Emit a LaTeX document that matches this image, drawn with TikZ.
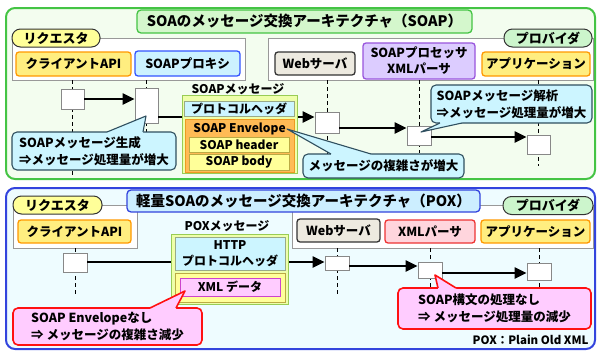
\documentclass[tikz,border=0pt]{standalone}
\usepackage{fontspec}
\setmainfont{Noto Sans CJK JP}[BoldFont={Noto Sans CJK JP Black}]
\usetikzlibrary{arrows.meta}
\definecolor{gpanelD}{HTML}{44C444}
\definecolor{gpanelF}{HTML}{F3FDEF}
\definecolor{gtitleF}{HTML}{D4F7CC}
\definecolor{bpanelD}{HTML}{3344DD}
\definecolor{bpanelF}{HTML}{EEFCFF}
\definecolor{btitleF}{HTML}{CCEEFF}
\definecolor{reqF}{HTML}{FFFF99}
\definecolor{provF}{HTML}{CCF5CC}
\definecolor{ylwF}{HTML}{FFEE80}
\definecolor{ylwD}{HTML}{FF9900}
\definecolor{prxF}{HTML}{CCF2FF}
\definecolor{prxD}{HTML}{3355FF}
\definecolor{webF}{HTML}{EDEAE0}
\definecolor{procF}{HTML}{DCCCFF}
\definecolor{procD}{HTML}{9955DD}
\definecolor{xmlpF}{HTML}{FFD5DD}
\definecolor{xmlpD}{HTML}{EE3333}
\definecolor{cyF}{HTML}{CCF5FF}
\definecolor{cyD}{HTML}{2F4F5F}
\definecolor{rdF}{HTML}{FFCCFF}
\definecolor{rdD}{HTML}{FF1111}
\definecolor{msgF}{HTML}{EEFFAA}
\definecolor{msgD}{HTML}{99CC55}
\definecolor{hdrD}{HTML}{99AA88}
\definecolor{envF}{HTML}{FFBB55}
\definecolor{envD}{HTML}{EE9922}
\definecolor{inF}{HTML}{FFFF99}
\definecolor{inD}{HTML}{BBAA44}
\definecolor{xdF}{HTML}{FFCCFF}
\definecolor{xdD}{HTML}{CC44CC}
\definecolor{grpD}{HTML}{999999}
\definecolor{actD}{HTML}{888888}
\begin{document}
\begin{tikzpicture}[x=1pt,y=-1pt,
  txt/.style={font=\bfseries\fontsize{12}{15}\selectfont},
  box/.style={draw, rounded corners=3pt, inner sep=0pt, line width=1.3pt, align=center, txt},
  panel/.style={rounded corners=9pt, line width=2pt, inner sep=0pt},
  ttl/.style={draw, rounded corners=4pt, line width=1.3pt, inner sep=0pt, font=\bfseries\fontsize{14.5}{16}\selectfont},
  grp/.style={draw=grpD, fill=white, line width=0.8pt, inner sep=0pt},
  pill/.style={draw=black!80, rounded corners=8.5pt, line width=1pt, inner sep=0pt, font=\bfseries\fontsize{13}{15}\selectfont},
  act/.style={draw=actD, fill=white, line width=0.8pt, inner sep=0pt},
  lifeline/.style={line width=0.9pt, dash pattern=on 4pt off 3pt},
  arr/.style={line width=2.2pt, -{Triangle[length=12pt,width=11pt]}},
  thin box/.style={draw, inner sep=0pt, line width=0.9pt, align=center, txt},
  callc/.style={draw=cyD, fill=cyF, rounded corners=5pt, line width=1.1pt, inner sep=0pt, align=left, font=\bfseries\fontsize{12.5}{17}\selectfont},
  callr/.style={draw=rdD, fill=rdF, rounded corners=5pt, line width=1.6pt, inner sep=0pt, align=left, font=\bfseries\fontsize{12.5}{17}\selectfont}
]
\useasboundingbox (0,0) rectangle (598,351);
% ================= TOP PANEL =================
\node[panel, draw=gpanelD, fill=gpanelF, minimum width=589, minimum height=171] (P1) at (300.5,93.5) {};
\node[grp, minimum width=233, minimum height=42] (G1r) at (128.5,59) {};
\node[grp, minimum width=325, minimum height=42] (G1p) at (430.5,59) {};
\node[ttl, draw=gpanelD, fill=gtitleF, minimum width=335, minimum height=23] (T1) at (304.5,21.5) {SOAのメッセージ交換アーキテクチャ（SOAP）};
\node[pill, fill=reqF, minimum width=88, minimum height=18] (R1pill) at (56,38) {リクエスタ};
\node[pill, fill=provF, minimum width=88, minimum height=18] (P1pill) at (548,38) {プロバイダ};
\node[box, draw=ylwD, fill=ylwF, minimum width=115, minimum height=24, font=\bfseries\fontsize{12.5}{15}\selectfont] (api1) at (73.5,64) {クライアントAPI};
\node[box, draw=prxD, fill=prxF, minimum width=105, minimum height=25, font=\bfseries\fontsize{12.5}{15}\selectfont] (prx1) at (187.5,63.5) {SOAPプロキシ};
\node[box, draw=black!80, fill=webF, minimum width=80, minimum height=23, font=\bfseries\fontsize{12.5}{15}\selectfont] (web1) at (315,63.5) {Webサーバ};
\node[box, draw=procD, fill=procF, minimum width=112, minimum height=36, font=\bfseries\fontsize{12.5}{16}\selectfont] (proc1) at (419,61) {SOAPプロセッサ\\XMLパーサ};
\node[box, draw=ylwD, fill=ylwF, minimum width=108, minimum height=24, font=\bfseries\fontsize{12.5}{15}\selectfont] (app1) at (536,64) {アプリケーション};
% lifeline end points
\coordinate (e1) at (72.5,176);
\coordinate (e2) at (146.5,171);
\coordinate (e3) at (327,156);
\coordinate (e4) at (419,153);
\coordinate (e5) at (538.5,166);
\draw[lifeline] (e1 |- G1r.south) -- (e1);
\draw[lifeline] (e2 |- G1r.south) -- (e2);
\draw[lifeline] (e3 |- G1p.south) -- (e3);
\draw[lifeline] (e4 |- G1p.south) -- (e4);
\draw[lifeline] (e5 |- G1p.south) -- (e5);
% activation boxes
\node[act, minimum width=23, minimum height=20] (a1) at (72.5,99) {};
\node[act, minimum width=23, minimum height=35] (a2) at (146.5,105.5) {};
\node[act, minimum width=24, minimum height=21] (a3) at (327,122.5) {};
\node[act, minimum width=24, minimum height=19] (a4) at (419,135.5) {};
\node[act, minimum width=23, minimum height=19] (a5) at (538.5,144.5) {};
\coordinate (y117) at (0,117);
\coordinate (y128) at (0,128);
\coordinate (y137) at (0,137);
\draw[arr] (a1.east) -- (a1.east -| a2.west);
\draw[arr] (a2.east |- y117) -- (a3.west |- y117);
\draw[arr] (a3.east |- y128) -- (a4.west |- y128);
\draw[arr] (a4.east |- y137) -- (a5.west |- y137);
% SOAP message
\node[txt] (lblsoap) at (238,89) {SOAPメッセージ};
\node[thin box, draw=msgD, fill=msgF, minimum width=115, minimum height=78] (msg1) at (239.5,134) {};
\node[thin box, draw=hdrD, fill=cyF, minimum width=110, minimum height=15] (hdr1) at (239,108.5) {プロトコルヘッダ};
\node[thin box, draw=envD, fill=envF, minimum width=109, minimum height=53] (env1) at (239.5,145.5) {};
\node[txt] (envtxt) at (239.5,128.5) {SOAP Envelope};
\node[thin box, draw=inD, fill=inF, minimum width=100, minimum height=15] (sh1) at (239,144.5) {SOAP header};
\node[thin box, draw=inD, fill=inF, minimum width=100, minimum height=16] (sb1) at (239,162) {SOAP body};
% callouts top
\node[callc, minimum width=164, minimum height=38] (c1) at (94,151) {SOAPメッセージ生成\\⇒メッセージ処理量が増大};
\coordinate (c1tip) at (146,116);
\fill[cyF] (107,133.2) -- (107,132) -- (c1tip) -- (143,132) -- (143,133.2) -- cycle;
\draw[cyD, line width=1.1pt, line join=round] (107,132) -- (c1tip) -- (143,132);
\node[callc, minimum width=161, minimum height=24] (c2) at (383.5,166) {メッセージの複雑さが増大};
\coordinate (c2tip) at (287,129);
\fill[cyF] (331,155.2) -- (331,154) -- (c2tip) -- (371,154) -- (371,155.2) -- cycle;
\draw[cyD, line width=1.1pt, line join=round] (331,154) -- (c2tip) -- (371,154);
\node[callc, minimum width=161, minimum height=38] (c3) at (511.5,104) {SOAPメッセージ解析\\⇒メッセージ処理量が増大};
\coordinate (c3tip) at (421,132);
\fill[cyF] (440,121.8) -- (440,123) -- (c3tip) -- (462,123) -- (462,121.8) -- cycle;
\draw[cyD, line width=1.1pt, line join=round] (440,123) -- (c3tip) -- (462,123);
% ================= BOTTOM PANEL =================
\node[panel, draw=bpanelD, fill=bpanelF, minimum width=589, minimum height=161] (P2) at (300.5,268.5) {};
\node[grp, minimum width=124, minimum height=43] (G2r) at (75,226.5) {};
\node[grp, minimum width=301, minimum height=43] (G2p) at (442.5,226.5) {};
\node[ttl, draw=bpanelD, fill=btitleF, minimum width=353, minimum height=22] (T2) at (303.5,201) {軽量SOAのメッセージ交換アーキテクチャ（POX）};
\node[pill, fill=reqF, minimum width=89, minimum height=18] (R2pill) at (57.5,205) {リクエスタ};
\node[pill, fill=provF, minimum width=90, minimum height=18] (P2pill) at (548,205.5) {プロバイダ};
\node[box, draw=ylwD, fill=ylwF, minimum width=113, minimum height=23, font=\bfseries\fontsize{12.5}{15}\selectfont] (api2) at (74.5,231.5) {クライアントAPI};
\node[box, draw=black!80, fill=webF, minimum width=83, minimum height=23, font=\bfseries\fontsize{12.5}{15}\selectfont] (web2) at (338.5,230.5) {Webサーバ};
\node[box, draw=xmlpD, fill=xmlpF, minimum width=90, minimum height=23, font=\bfseries\fontsize{12.5}{15}\selectfont] (xmlp2) at (430,231.5) {XMLパーサ};
\node[box, draw=ylwD, fill=ylwF, minimum width=109, minimum height=23, font=\bfseries\fontsize{12.5}{15}\selectfont] (app2) at (535.5,231.5) {アプリケーション};
\coordinate (f1) at (75,295);
\coordinate (f2) at (337,297);
\coordinate (f3) at (430,290);
\coordinate (f4) at (539,288);
\draw[lifeline] (f1 |- G2r.south) -- (f1);
\draw[lifeline] (f2 |- G2p.south) -- (f2);
\draw[lifeline] (f3 |- G2p.south) -- (f3);
\draw[lifeline] (f4 |- G2p.south) -- (f4);
\node[act, minimum width=24, minimum height=19] (b1) at (75,262.5) {};
\node[act, minimum width=24, minimum height=14] (b2) at (337,263) {};
\node[act, minimum width=24, minimum height=16] (b3) at (430,270) {};
\node[act, minimum width=24, minimum height=17] (b4) at (539,271.5) {};
\coordinate (y262) at (0,262);
\coordinate (y266) at (0,266);
\coordinate (y273) at (0,273);
\draw[arr] (b1.east |- y262) -- (b2.west |- y262);
\draw[arr] (b2.east |- y266) -- (b3.west |- y266);
\draw[arr] (b3.east |- y273) -- (b4.west |- y273);
% POX message
\node[txt] (lblpox) at (227,226) {POXメッセージ};
\node[thin box, draw=msgD, fill=msgF, minimum width=117, minimum height=70] (msg2) at (229.5,269) {};
\node[thin box, draw=hdrD, fill=cyF, minimum width=110, minimum height=33, font=\bfseries\fontsize{12}{16.5}\selectfont] (hdr2) at (230,253.5) {HTTP\\プロトコルヘッダ};
\node[thin box, draw=inD, fill=inF, minimum width=110, minimum height=29] (xo2) at (230,287.5) {};
\node[thin box, draw=xdD, fill=xdF, minimum width=100, minimum height=18] (xd2) at (230,287) {XML データ};
% callouts bottom
\node[callr, minimum width=189, minimum height=37] (r1) at (107.5,326.5) {SOAP Envelopeなし\\⇒ メッセージの複雑さ減少};
\coordinate (r1tip) at (185,291);
\fill[rdF] (150,309.5) -- (150,308) -- (r1tip) -- (176,308) -- (176,309.5) -- cycle;
\draw[rdD, line width=1.6pt, line join=round] (150,308) -- (r1tip) -- (176,308);
\node[callr, minimum width=193, minimum height=41] (r2) at (494.5,308.5) {SOAP構文の処理なし\\⇒ メッセージ処理量の減少};
\coordinate (r2tip) at (435,275);
\fill[rdF] (438,289.5) -- (438,288) -- (r2tip) -- (456,288) -- (456,289.5) -- cycle;
\draw[rdD, line width=1.6pt, line join=round] (438,288) -- (r2tip) -- (456,288);
\node[anchor=east, font=\bfseries\fontsize{11.5}{13}\selectfont] (poxnote) at (592,340) {POX：Plain Old XML};
\end{tikzpicture}
\end{document}
